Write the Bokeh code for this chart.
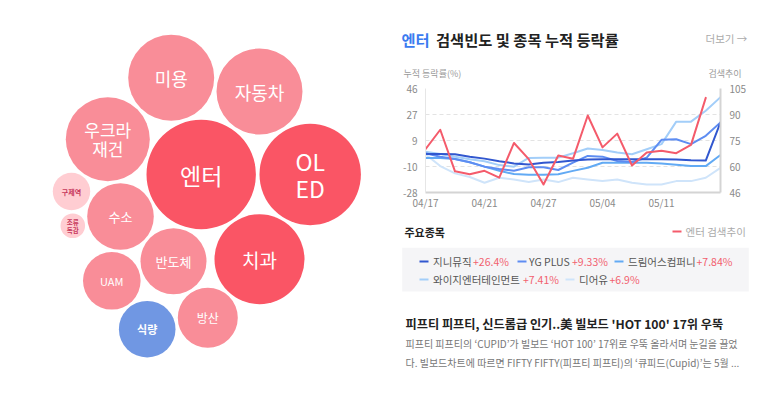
from bokeh.plotting import figure
from bokeh.models import ColumnDataSource, Range1d, LinearAxis, FixedTicker
from bokeh.layouts import row, column
from bokeh.embed import file_html
from bokeh.resources import INLINE
from bokeh.core.properties import value

FONT = "Noto Sans CJK KR"

# ---------------- bubble (theme) data ----------------
bubble_names = ["미용", "자동차", "우크라\n재건", "엔터", "OL\nED", "구제역", "수소",
                "조류\n독감", "반도체", "치과", "UAM", "식량", "방산"]
bubble_sizes = [43, 43, 42, 54.7, 50.7, 18.7, 33.3, 12.3, 33, 45, 28.8, 28.3, 30]
bubble_kind = ["up", "up", "up", "hot", "hot", "weak", "up", "weak", "up", "hot", "up", "down", "up"]
# packed layout positions (page pixels)
bubble_x = [170.7, 259, 107.3, 200.7, 309.7, 71, 120, 72.3, 173, 259, 111.3, 146.7, 207.3]
bubble_y = [77.3, 91, 138.7, 174, 174, 191, 216, 225.3, 260.7, 258.7, 280.3, 328.7, 317.3]
bubble_font_px = [18, 18, 17, 23, 23, 7, 13, 6.5, 13, 19, 11, 11, 12]

# ---------------- line chart data ----------------
dates = ["04/17", "04/18", "04/19", "04/20", "04/21", "04/24", "04/25", "04/26", "04/27", "04/28",
         "05/02", "05/03", "05/04", "05/08", "05/09", "05/10", "05/11", "05/12", "05/15", "05/16", "05/17"]
date_ticks = [0, 4, 8, 12, 16]
left_tick_labels = ["-28", "-10", "9", "27", "46"]
right_tick_labels = ["46", "60", "75", "90", "105"]

search_trend = [70.6, 81.6, 58.0, 56.3, 58.3, 54.4, 74.1, 64.9, 50.5, 67.0,
                65.1, 89.7, 71.6, 79.4, 61.3, 68.7, 69.7, 68.3, 73.0, 99.7]
genie = [-0.6, -0.6, -0.8, -2.5, -3.9, -5.8, -7.3, -8.0, -6.8, -6.3,
         -5.3, -4.6, -4.4, -4.4, -4.4, -4.4, -4.4, -4.6, -5.1, -5.3, 21.9]
ygplus = [-0.1, -2.5, -4.1, -6.5, -9.6, -11.3, -12.5, -10.1, -10.1, -12.0,
          -6.8, -2.0, -2.5, -5.6, -6.3, -3.2, 9.5, 9.9, 6.4, 12.3, 21.9]
dreamus = [-3.4, -3.4, -4.1, -6.5, -9.6, -12.5, -14.9, -15.4, -15.4, -15.0,
           -12.6, -10.4, -6.8, -6.8, -6.8, -6.8, -7.3, -8.2, -9.2, -9.2, -1.3]
ygent = [1.0, -0.6, -2.5, -4.4, -5.8, -8.5, -9.6, -3.4, -3.2, -3.2,
         -0.1, 3.3, 2.3, 0.4, -0.8, 2.8, 6.4, 22.4, 22.4, 30.2, 39.8]
dearu = [-0.8, -9.2, -14.4, -17.0, -21.1, -17.5, -18.7, -20.6, -18.7, -20.6,
         -17.5, -18.7, -19.9, -18.7, -21.1, -22.3, -22.3, -19.9, -19.9, -17.5, -10.4]

stock_names = ["지니뮤직", "YG PLUS", "드림어스컴퍼니", "와이지엔터테인먼트", "디어유"]
stock_pcts = ["+26.4%", "+9.33%", "+7.84%", "+7.41%", "+6.9%"]
stock_series = [genie, ygplus, dreamus, ygent, dearu]
stock_colors = ["#3157CF", "#5E8DF2", "#62AAF4", "#A3CEF9", "#CFE4FA"]
search_color = "#F45B6B"

news_title = "피프티 피프티, 신드롬급 인기..美 빌보드 'HOT 100' 17위 우뚝"
news_body = ["피프티 피프티의 ‘CUPID’가 빌보드 ‘HOT 100’ 17위로 우뚝 올라서며 눈길을 끌었",
             "다. 빌보드차트에 따르면 FIFTY FIFTY(피프티 피프티)의 ‘큐피드(Cupid)’는 5월 ..."]

# right-column geometry (page pixels): plot frame spans x 425..720
RX0, RX1 = 393, 772
FX0, FX1 = 425, 720
BL, BR = FX0 - RX0, RX1 - FX1


def panel(h, yr):
    p = figure(width=RX1 - RX0, height=h, x_range=Range1d(FX0, FX1), y_range=Range1d(*yr),
               output_backend="svg", toolbar_location=None,
               x_axis_type=None, y_axis_type=None,
               min_border_left=BL, min_border_right=BR, min_border_top=0, min_border_bottom=0,
               outline_line_color=None, background_fill_color="white",
               border_fill_color="white")
    return p


def txt(p, x, y, t, size, color, bold=False, align="left"):
    p.text(x=x, y=y, text=t, text_color=color, text_font_size=size,
           text_font_style="bold" if bold else "normal", text_font=value(FONT),
           text_baseline="middle", text_align=align, level="overlay")


# ---------------- left: bubbles ----------------
kind_fill = {"hot": "#FA5565", "up": "#F98D98", "weak": "#FFCDD2", "down": "#7097E3"}
kind_text = {"hot": "white", "up": "white", "weak": "#C7375B", "down": "white"}
left = figure(width=RX0, height=394, x_range=Range1d(0, RX0), y_range=Range1d(394, 0),
              output_backend="svg", toolbar_location=None, x_axis_type=None, y_axis_type=None,
              min_border=0, outline_line_color=None)
bsrc = ColumnDataSource(dict(
    x=bubble_x, y=bubble_y, r=bubble_sizes, name=bubble_names,
    fill=[kind_fill[k] for k in bubble_kind],
    tcol=[kind_text[k] for k in bubble_kind],
    fs=[f"{s}px" for s in bubble_font_px],
    fw=["bold" if k in ("weak", "down") else "normal" for k in bubble_kind],
))
left.circle(x="x", y="y", radius="r", source=bsrc, fill_color="fill", line_color=None)
left.text(x="x", y="y", text="name", source=bsrc, text_color="tcol", text_font_size="fs",
          text_font_style="fw", text_font=value(FONT), text_align="center",
          text_baseline="middle", text_line_height=0.77)

# ---------------- right header ----------------
head = panel(80, (80, 0))
txt(head, [401], [38], ["엔터"], "15.3px", "#3B7BF0", bold=True)
txt(head, [435.5], [38], ["검색빈도 및 종목 누적 등락률"], "15.3px", "#222222", bold=True)
txt(head, [705], [37.5], ["더보기 →"], "10.5px", "#AAAAAA")
txt(head, [403], [73], ["누적 등락률(%)"], "9px", "#9A9A9A")
txt(head, [741], [73], ["검색추이"], "9px", "#9A9A9A", align="right")

# ---------------- line chart ----------------
lo, hi = -28, 46
rlo, rhi = 46, 105
chart = figure(width=RX1 - RX0, height=135, x_range=Range1d(0, len(dates) - 1), y_range=Range1d(lo, hi),
               output_backend="svg", toolbar_location=None,
               min_border_left=BL, min_border_right=BR, min_border_top=8, min_border_bottom=23,
               outline_line_color=None, background_fill_color="white", border_fill_color="white")
lt = [lo + (hi - lo) * k / 4 for k in range(5)]
rt = [rlo + (rhi - rlo) * k / 4 for k in range(5)]
chart.xaxis.ticker = FixedTicker(ticks=date_ticks)
chart.xaxis.major_label_overrides = {t: dates[t] for t in date_ticks}
chart.yaxis.ticker = FixedTicker(ticks=lt)
chart.yaxis.major_label_overrides = {t: s for t, s in zip(lt, left_tick_labels)}
chart.extra_y_ranges = {"search": Range1d(rlo, rhi)}
rax = LinearAxis(y_range_name="search", ticker=FixedTicker(ticks=rt),
                 major_label_overrides={t: s for t, s in zip(rt, right_tick_labels)})
chart.add_layout(rax, "right")
for ax in [chart.xaxis[0], chart.yaxis[0], rax]:
    ax.major_tick_line_color = None
    ax.minor_tick_line_color = None
    ax.major_tick_out = 0
    ax.major_tick_in = 0
    ax.minor_tick_out = 0
    ax.minor_tick_in = 0
    ax.major_label_text_font = FONT
    ax.major_label_text_font_size = "10px"
    ax.major_label_text_color = "#8A8A8A"
chart.yaxis[0].axis_line_color = "#E6E6E6"
chart.yaxis[0].major_label_standoff = 8
chart.xaxis[0].axis_line_color = "#D4D4D4"
chart.xaxis[0].axis_line_width = 2
chart.xaxis[0].major_label_standoff = 2
rax.axis_line_color = "#D4D4D4"
rax.axis_line_width = 2
rax.major_label_standoff = 9
chart.xgrid.visible = False
chart.ygrid.grid_line_color = "#E3E3E3"
chart.ygrid.grid_line_dash = "4 3"

xs = list(range(len(dates)))
for ser, col in reversed(list(zip(stock_series, stock_colors))):
    chart.line(xs[:len(ser)], ser, line_color=col, line_width=2, line_join="round", line_cap="round")
chart.line(xs[:len(search_trend)], search_trend, y_range_name="search", line_color=search_color,
           line_width=2, line_join="round", line_cap="round")

# ---------------- bottom: legend + news ----------------
bot = panel(179, (394, 215))
bot.quad(left=[401.7], right=[748.3], top=[247.3], bottom=[291], fill_color="#F5F5F7",
         line_color=None, level="overlay")
txt(bot, [404], [231], ["주요종목"], "11px", "#222222", bold=True)
bot.segment(x0=[672], y0=[231], x1=[681], y1=[231], line_color=search_color, line_width=2,
            level="overlay")
txt(bot, [685], [231], ["엔터 검색추이"], "10.5px", "#AAAAAA")
item_dash_x = [419, 517, 614, 419, 565]
item_name_x = [432.5, 528.5, 627.5, 432.5, 578.5]
item_pct_x = [472.5, 571.5, 696, 522.5, 609]
item_y = [261, 261, 261, 279, 279]
bot.segment(x0=item_dash_x, y0=item_y, x1=[x + 9 for x in item_dash_x], y1=item_y,
            line_color=stock_colors, line_width=2, level="overlay")
txt(bot, item_name_x, item_y, stock_names, "10.5px", "#555555")
txt(bot, item_pct_x, item_y, stock_pcts, "10.5px", "#F2606E")
txt(bot, [405], [323.5], [news_title], "12.2px", "#222222", bold=True)
txt(bot, [405, 405], [342.7, 362.3], news_body, "10px", "#777777")

layout = row(left, column(head, chart, bot))
open("out.html", "w").write(file_html(layout, INLINE))
